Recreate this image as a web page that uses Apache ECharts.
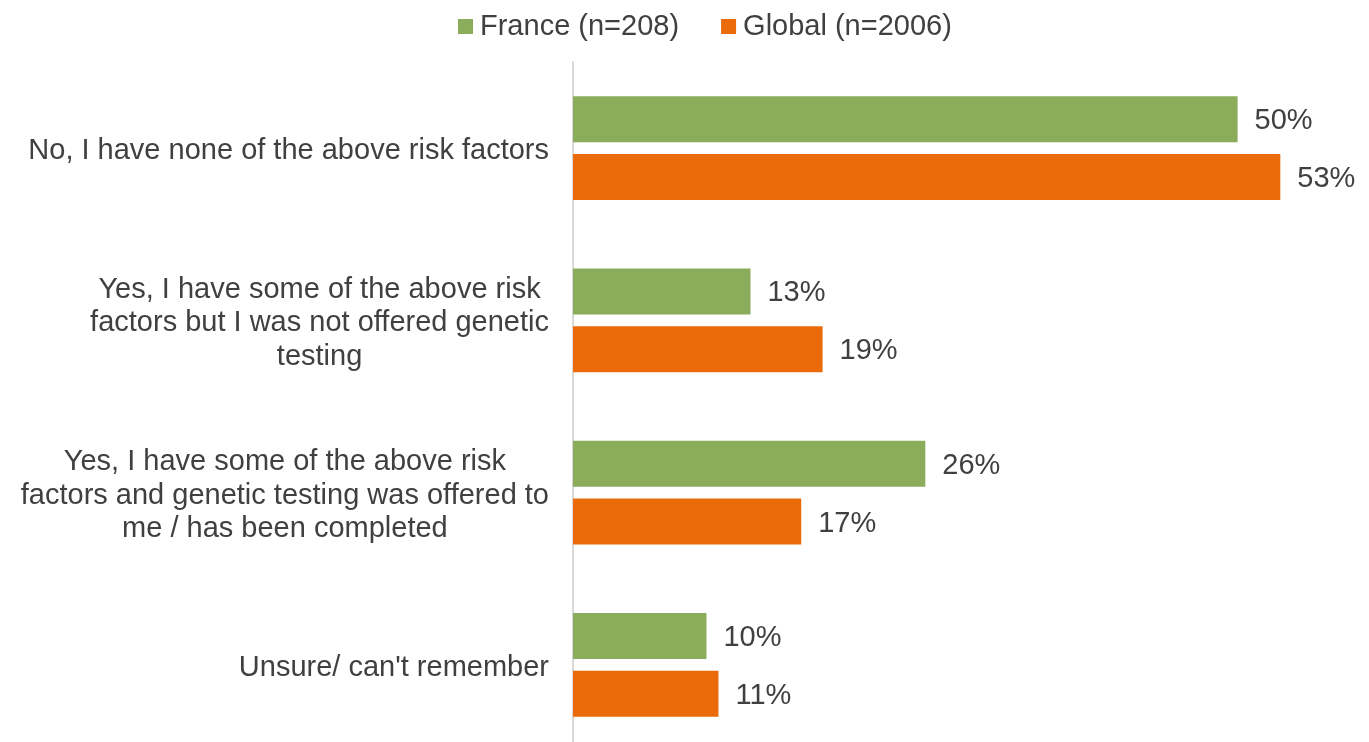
<!DOCTYPE html>
<html>
<head>
<meta charset="utf-8">
<script src="https://cdn.jsdelivr.net/npm/echarts@6/dist/echarts.min.js"></script>
<style>
html,body{margin:0;padding:0;background:#fff;}
#chart{width:1369px;height:742px;}
</style>
</head>
<body>
<div id="chart"></div>
<script>
var categories = [
  "No, I have none of the above risk factors",
  "Yes, I have some of the above risk\nfactors but I was not offered genetic\ntesting",
  "Yes, I have some of the above risk\nfactors and genetic testing was offered to\nme / has been completed",
  "Unsure/ can't remember"
];
var seriesNames = ["France (n=208)", "Global (n=2006)"];
var franceValues = [49.8, 13.3, 26.4, 10.0];
var globalValues = [53.0, 18.7, 17.1, 10.9];

var FONT = '"Liberation Sans", Arial, sans-serif';
var TEXT = '#404040';

var chart = echarts.init(document.getElementById('chart'));
var labelOpt = {
  show: true,
  position: 'right',
  distance: 17,
  offset: [0, 2],
  color: TEXT,
  fontFamily: FONT,
  fontSize: 29,
  formatter: function (p) { return Math.round(p.value) + '%'; }
};
chart.setOption({
  animation: false,
  backgroundColor: '#fff',
  legend: {
    left: 453,
    top: 7,
    itemWidth: 15,
    itemHeight: 15,
    itemGap: 42,
    icon: 'rect',
    textStyle: { color: TEXT, fontFamily: FONT, fontSize: 29, padding: [0, 0, 0, 2] },
    data: seriesNames
  },
  grid: { left: 573, top: 62, height: 689, right: 62, containLabel: false, outerBoundsMode: 'none' },
  xAxis: {
    type: 'value',
    min: 0,
    max: 55,
    show: false
  },
  yAxis: {
    type: 'category',
    inverse: true,
    data: categories,
    axisLine: { show: true, lineStyle: { color: '#D9D9D9', width: 2 } },
    axisTick: { show: false },
    splitLine: { show: false },
    axisLabel: {
      margin: 24,
      align: 'right',
      padding: [6, 0, 0, 0],
      color: TEXT,
      fontFamily: FONT,
      fontSize: 29,
      formatter: function (v) {
        return v.split('\n').map(function (l) { return '{c|' + l + '}'; }).join('\n');
      },
      rich: {
        c: { align: 'center', color: TEXT, fontFamily: FONT, fontSize: 29, lineHeight: 33.5 }
      }
    }
  },
  series: [
    {
      name: seriesNames[0],
      type: 'bar',
      data: franceValues,
      barWidth: 46,
      barGap: '26%',
      itemStyle: { color: '#8BAD5B' },
      label: labelOpt
    },
    {
      name: seriesNames[1],
      type: 'bar',
      data: globalValues,
      barWidth: 46,
      itemStyle: { color: '#EB6A0A' },
      label: labelOpt
    }
  ]
});
</script>
</body>
</html>
